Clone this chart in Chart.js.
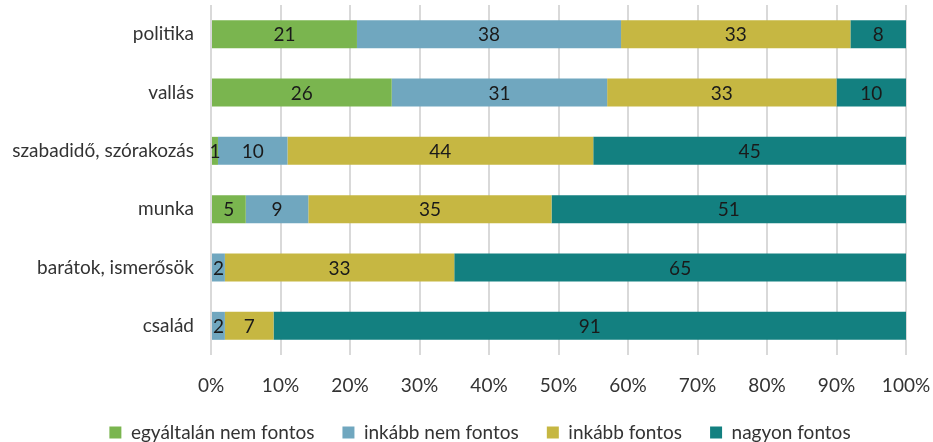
<!DOCTYPE html>
<html>
<head>
<meta charset="utf-8">
<script src="https://cdn.jsdelivr.net/npm/chart.js@4/dist/chart.umd.min.js"></script>
<style>
  html, body { margin: 0; padding: 0; background: #fff; }
  #wrap { width: 933px; height: 442px; }
</style>
</head>
<body>
<div id="wrap"><canvas id="chart"></canvas></div>
<script>
// Data

const categories = ["politika", "vallás", "szabadidő, szórakozás", "munka", "barátok, ismerősök", "család"];
const seriesNames = ["egyáltalán nem fontos", "inkább nem fontos", "inkább fontos", "nagyon fontos"];

const notImportant = [21, 26, 1, 5, 0, 0];
const ratherNot = [38, 31, 10, 9, 2, 2];
const ratherImportant = [33, 33, 44, 35, 33, 7];
const veryImportant = [8, 10, 45, 51, 65, 91];

const xTicks = [0, 10, 20, 30, 40, 50, 60, 70, 80, 90, 100];

const colors = ["#7ab54f", "#70a7bf", "#c6b742", "#138080"];
const FONT = "Lato, 'Open Sans', sans-serif";
const SIZE = 19;

// Value labels inside each segment

const barLabels = {
  id: "barLabels",
  afterLayout(chart) {
    // let the long category names use the space left of the axis box
    chart.scales.y.left = 0;
  },
  afterDatasetsDraw(chart) {
    const ctx = chart.ctx;
    ctx.save();
    ctx.font = SIZE + "px " + FONT;
    ctx.fillStyle = "#1a1a1a";
    ctx.textAlign = "center";
    ctx.textBaseline = "middle";
    chart.data.datasets.forEach((ds, i) => {
      chart.getDatasetMeta(i).data.forEach((bar, j) => {
        const v = ds.data[j];
        if (!v) return;
        const cx = (bar.base + bar.x) / 2;
        ctx.fillText(String(v), cx, bar.y + 1);
      });
    });
    ctx.restore();
  }
};

let values = [notImportant, ratherNot, ratherImportant, veryImportant];

let chart = new Chart(document.getElementById("chart"), {
  type: "bar",
  data: {
    labels: categories,
    datasets: seriesNames.map((name, i) => ({
      label: name,
      data: values[i],
      backgroundColor: colors[i],
      borderWidth: 0,
      barPercentage: 0.48,
      categoryPercentage: 1,
    })),
  },
  options: {
    indexAxis: "y",
    responsive: true,
    maintainAspectRatio: false,
    animation: false,
    layout: { padding: { top: 5, right: 27, bottom: -10, left: 54 } },
    scales: {
      x: {
        stacked: true,
        min: 0,
        max: 100,
        afterBuildTicks: (scale) => {
          scale.ticks = xTicks.map((v) => ({ value: v }));
        },
        afterFit: (scale) => {
          scale.paddingLeft = 0;
          scale.paddingRight = 0;
          scale.height = 40;
        },
        ticks: {
          callback: (v) => v + "%",
          font: { family: FONT, size: SIZE, lineHeight: 1 },
          color: "#333",
          padding: 21,
          maxRotation: 0,
        },
        grid: { color: "#d9d9d9", lineWidth: 2, drawTicks: false },
        border: { display: false },
      },
      y: {
        stacked: true,
        afterFit: (scale) => {
          scale.width = 157;
          scale.paddingTop = 0;
          scale.paddingBottom = 0;
        },
        ticks: {
          font: { family: FONT, size: SIZE },
          color: "#333",
          padding: 17,
        },
        grid: { display: false, drawTicks: false },
        border: { display: false },
      },
    },
    plugins: {
      legend: {
        position: "bottom",
        labels: {
          boxWidth: 12,
          boxHeight: 12,
          padding: 28,
          font: { family: FONT, size: SIZE },
          color: "#333",
        },
      },
      tooltip: { enabled: false },
    },
  },
  plugins: [barLabels],
});
</script>
</body>
</html>
